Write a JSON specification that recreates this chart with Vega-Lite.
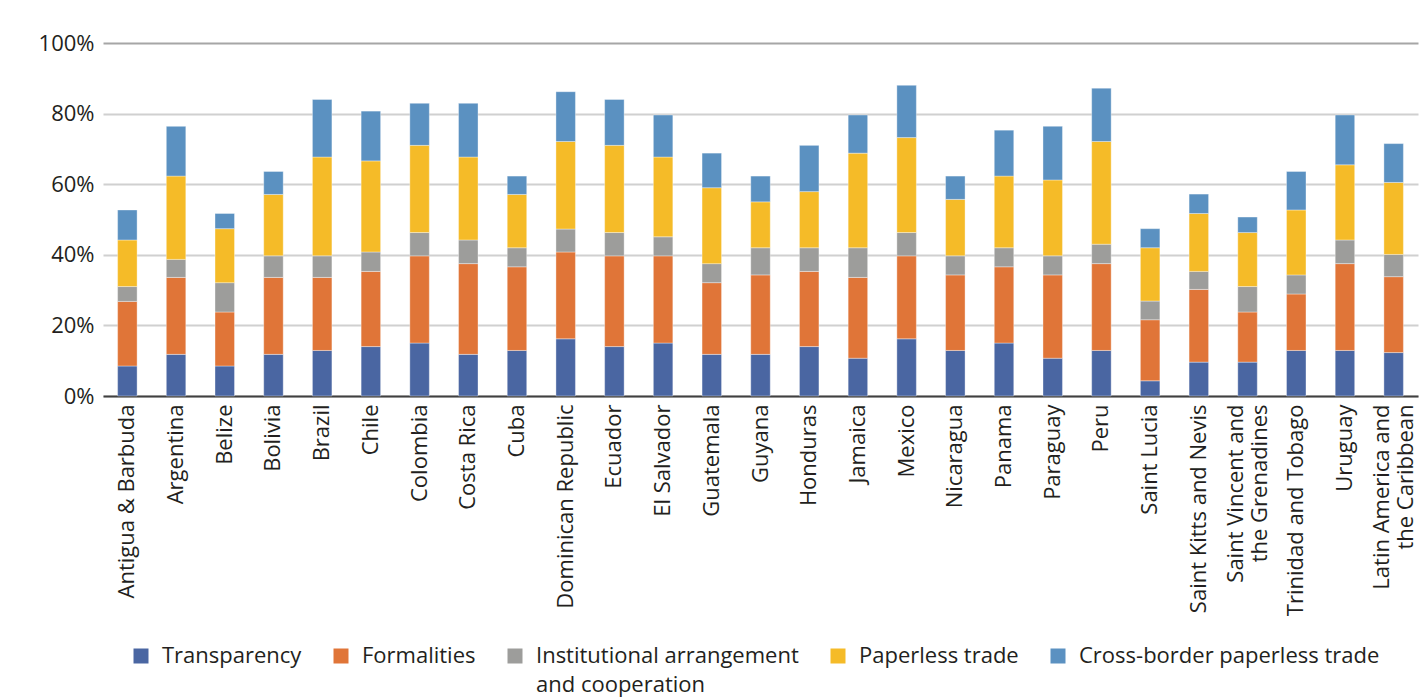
{
  "$schema": "https://vega.github.io/schema/vega-lite/v6.json",
  "width": 1315,
  "height": 353,
  "autosize": {"type": "none"},
  "padding": {"left": 103, "top": 43, "right": 10, "bottom": 301},
  "background": "#ffffff",
  "config": {
    "view": {"stroke": null},
    "font": "Open Sans",
    "axis": {"labelFont": "Open Sans", "labelColor": "#231f20"},
    "legend": {"labelFont": "Open Sans", "labelColor": "#231f20"},
    "style": {"guide-label": {"lineHeight": 29}}
  },
  "data": {
    "values": [
      {"country": "Antigua & Barbuda", "component": "Transparency", "o": 1, "value": 8.5},
      {"country": "Antigua & Barbuda", "component": "Formalities", "o": 2, "value": 18.3},
      {"country": "Antigua & Barbuda", "component": "Institutional arrangement and cooperation", "o": 3, "value": 4.2},
      {"country": "Antigua & Barbuda", "component": "Paperless trade", "o": 4, "value": 13.2},
      {"country": "Antigua & Barbuda", "component": "Cross-border paperless trade", "o": 5, "value": 8.5},
      {"country": "Argentina", "component": "Transparency", "o": 1, "value": 11.8},
      {"country": "Argentina", "component": "Formalities", "o": 2, "value": 21.8},
      {"country": "Argentina", "component": "Institutional arrangement and cooperation", "o": 3, "value": 5.1},
      {"country": "Argentina", "component": "Paperless trade", "o": 4, "value": 23.6},
      {"country": "Argentina", "component": "Cross-border paperless trade", "o": 5, "value": 14.1},
      {"country": "Belize", "component": "Transparency", "o": 1, "value": 8.5},
      {"country": "Belize", "component": "Formalities", "o": 2, "value": 15.3},
      {"country": "Belize", "component": "Institutional arrangement and cooperation", "o": 3, "value": 8.3},
      {"country": "Belize", "component": "Paperless trade", "o": 4, "value": 15.3},
      {"country": "Belize", "component": "Cross-border paperless trade", "o": 5, "value": 4.3},
      {"country": "Bolivia", "component": "Transparency", "o": 1, "value": 11.8},
      {"country": "Bolivia", "component": "Formalities", "o": 2, "value": 21.8},
      {"country": "Bolivia", "component": "Institutional arrangement and cooperation", "o": 3, "value": 6.1},
      {"country": "Bolivia", "component": "Paperless trade", "o": 4, "value": 17.4},
      {"country": "Bolivia", "component": "Cross-border paperless trade", "o": 5, "value": 6.5},
      {"country": "Brazil", "component": "Transparency", "o": 1, "value": 12.9},
      {"country": "Brazil", "component": "Formalities", "o": 2, "value": 20.7},
      {"country": "Brazil", "component": "Institutional arrangement and cooperation", "o": 3, "value": 6.1},
      {"country": "Brazil", "component": "Paperless trade", "o": 4, "value": 28.0},
      {"country": "Brazil", "component": "Cross-border paperless trade", "o": 5, "value": 16.3},
      {"country": "Chile", "component": "Transparency", "o": 1, "value": 14.0},
      {"country": "Chile", "component": "Formalities", "o": 2, "value": 21.3},
      {"country": "Chile", "component": "Institutional arrangement and cooperation", "o": 3, "value": 5.5},
      {"country": "Chile", "component": "Paperless trade", "o": 4, "value": 25.8},
      {"country": "Chile", "component": "Cross-border paperless trade", "o": 5, "value": 14.1},
      {"country": "Colombia", "component": "Transparency", "o": 1, "value": 15.0},
      {"country": "Colombia", "component": "Formalities", "o": 2, "value": 24.7},
      {"country": "Colombia", "component": "Institutional arrangement and cooperation", "o": 3, "value": 6.6},
      {"country": "Colombia", "component": "Paperless trade", "o": 4, "value": 24.7},
      {"country": "Colombia", "component": "Cross-border paperless trade", "o": 5, "value": 11.9},
      {"country": "Costa Rica", "component": "Transparency", "o": 1, "value": 11.8},
      {"country": "Costa Rica", "component": "Formalities", "o": 2, "value": 25.7},
      {"country": "Costa Rica", "component": "Institutional arrangement and cooperation", "o": 3, "value": 6.7},
      {"country": "Costa Rica", "component": "Paperless trade", "o": 4, "value": 23.5},
      {"country": "Costa Rica", "component": "Cross-border paperless trade", "o": 5, "value": 15.2},
      {"country": "Cuba", "component": "Transparency", "o": 1, "value": 12.9},
      {"country": "Cuba", "component": "Formalities", "o": 2, "value": 23.7},
      {"country": "Cuba", "component": "Institutional arrangement and cooperation", "o": 3, "value": 5.4},
      {"country": "Cuba", "component": "Paperless trade", "o": 4, "value": 15.1},
      {"country": "Cuba", "component": "Cross-border paperless trade", "o": 5, "value": 5.2},
      {"country": "Dominican Republic", "component": "Transparency", "o": 1, "value": 16.2},
      {"country": "Dominican Republic", "component": "Formalities", "o": 2, "value": 24.6},
      {"country": "Dominican Republic", "component": "Institutional arrangement and cooperation", "o": 3, "value": 6.5},
      {"country": "Dominican Republic", "component": "Paperless trade", "o": 4, "value": 24.8},
      {"country": "Dominican Republic", "component": "Cross-border paperless trade", "o": 5, "value": 14.1},
      {"country": "Ecuador", "component": "Transparency", "o": 1, "value": 14.0},
      {"country": "Ecuador", "component": "Formalities", "o": 2, "value": 25.7},
      {"country": "Ecuador", "component": "Institutional arrangement and cooperation", "o": 3, "value": 6.6},
      {"country": "Ecuador", "component": "Paperless trade", "o": 4, "value": 24.7},
      {"country": "Ecuador", "component": "Cross-border paperless trade", "o": 5, "value": 13.0},
      {"country": "El Salvador", "component": "Transparency", "o": 1, "value": 15.0},
      {"country": "El Salvador", "component": "Formalities", "o": 2, "value": 24.7},
      {"country": "El Salvador", "component": "Institutional arrangement and cooperation", "o": 3, "value": 5.4},
      {"country": "El Salvador", "component": "Paperless trade", "o": 4, "value": 22.6},
      {"country": "El Salvador", "component": "Cross-border paperless trade", "o": 5, "value": 11.9},
      {"country": "Guatemala", "component": "Transparency", "o": 1, "value": 11.8},
      {"country": "Guatemala", "component": "Formalities", "o": 2, "value": 20.3},
      {"country": "Guatemala", "component": "Institutional arrangement and cooperation", "o": 3, "value": 5.4},
      {"country": "Guatemala", "component": "Paperless trade", "o": 4, "value": 21.5},
      {"country": "Guatemala", "component": "Cross-border paperless trade", "o": 5, "value": 9.8},
      {"country": "Guyana", "component": "Transparency", "o": 1, "value": 11.8},
      {"country": "Guyana", "component": "Formalities", "o": 2, "value": 22.5},
      {"country": "Guyana", "component": "Institutional arrangement and cooperation", "o": 3, "value": 7.7},
      {"country": "Guyana", "component": "Paperless trade", "o": 4, "value": 13.0},
      {"country": "Guyana", "component": "Cross-border paperless trade", "o": 5, "value": 7.3},
      {"country": "Honduras", "component": "Transparency", "o": 1, "value": 14.0},
      {"country": "Honduras", "component": "Formalities", "o": 2, "value": 21.3},
      {"country": "Honduras", "component": "Institutional arrangement and cooperation", "o": 3, "value": 6.7},
      {"country": "Honduras", "component": "Paperless trade", "o": 4, "value": 15.9},
      {"country": "Honduras", "component": "Cross-border paperless trade", "o": 5, "value": 13.1},
      {"country": "Jamaica", "component": "Transparency", "o": 1, "value": 10.7},
      {"country": "Jamaica", "component": "Formalities", "o": 2, "value": 22.9},
      {"country": "Jamaica", "component": "Institutional arrangement and cooperation", "o": 3, "value": 8.4},
      {"country": "Jamaica", "component": "Paperless trade", "o": 4, "value": 26.8},
      {"country": "Jamaica", "component": "Cross-border paperless trade", "o": 5, "value": 10.8},
      {"country": "Mexico", "component": "Transparency", "o": 1, "value": 16.2},
      {"country": "Mexico", "component": "Formalities", "o": 2, "value": 23.5},
      {"country": "Mexico", "component": "Institutional arrangement and cooperation", "o": 3, "value": 6.6},
      {"country": "Mexico", "component": "Paperless trade", "o": 4, "value": 26.9},
      {"country": "Mexico", "component": "Cross-border paperless trade", "o": 5, "value": 14.8},
      {"country": "Nicaragua", "component": "Transparency", "o": 1, "value": 12.9},
      {"country": "Nicaragua", "component": "Formalities", "o": 2, "value": 21.4},
      {"country": "Nicaragua", "component": "Institutional arrangement and cooperation", "o": 3, "value": 5.4},
      {"country": "Nicaragua", "component": "Paperless trade", "o": 4, "value": 16.0},
      {"country": "Nicaragua", "component": "Cross-border paperless trade", "o": 5, "value": 6.6},
      {"country": "Panama", "component": "Transparency", "o": 1, "value": 15.0},
      {"country": "Panama", "component": "Formalities", "o": 2, "value": 21.6},
      {"country": "Panama", "component": "Institutional arrangement and cooperation", "o": 3, "value": 5.4},
      {"country": "Panama", "component": "Paperless trade", "o": 4, "value": 20.3},
      {"country": "Panama", "component": "Cross-border paperless trade", "o": 5, "value": 13.0},
      {"country": "Paraguay", "component": "Transparency", "o": 1, "value": 10.7},
      {"country": "Paraguay", "component": "Formalities", "o": 2, "value": 23.6},
      {"country": "Paraguay", "component": "Institutional arrangement and cooperation", "o": 3, "value": 5.4},
      {"country": "Paraguay", "component": "Paperless trade", "o": 4, "value": 21.5},
      {"country": "Paraguay", "component": "Cross-border paperless trade", "o": 5, "value": 15.2},
      {"country": "Peru", "component": "Transparency", "o": 1, "value": 12.9},
      {"country": "Peru", "component": "Formalities", "o": 2, "value": 24.6},
      {"country": "Peru", "component": "Institutional arrangement and cooperation", "o": 3, "value": 5.5},
      {"country": "Peru", "component": "Paperless trade", "o": 4, "value": 29.1},
      {"country": "Peru", "component": "Cross-border paperless trade", "o": 5, "value": 15.1},
      {"country": "Saint Lucia", "component": "Transparency", "o": 1, "value": 4.3},
      {"country": "Saint Lucia", "component": "Formalities", "o": 2, "value": 17.3},
      {"country": "Saint Lucia", "component": "Institutional arrangement and cooperation", "o": 3, "value": 5.3},
      {"country": "Saint Lucia", "component": "Paperless trade", "o": 4, "value": 15.1},
      {"country": "Saint Lucia", "component": "Cross-border paperless trade", "o": 5, "value": 5.4},
      {"country": "Saint Kitts and Nevis", "component": "Transparency", "o": 1, "value": 9.6},
      {"country": "Saint Kitts and Nevis", "component": "Formalities", "o": 2, "value": 20.6},
      {"country": "Saint Kitts and Nevis", "component": "Institutional arrangement and cooperation", "o": 3, "value": 5.1},
      {"country": "Saint Kitts and Nevis", "component": "Paperless trade", "o": 4, "value": 16.4},
      {"country": "Saint Kitts and Nevis", "component": "Cross-border paperless trade", "o": 5, "value": 5.5},
      {"country": "Saint Vincent and the Grenadines", "component": "Transparency", "o": 1, "value": 9.6},
      {"country": "Saint Vincent and the Grenadines", "component": "Formalities", "o": 2, "value": 14.2},
      {"country": "Saint Vincent and the Grenadines", "component": "Institutional arrangement and cooperation", "o": 3, "value": 7.2},
      {"country": "Saint Vincent and the Grenadines", "component": "Paperless trade", "o": 4, "value": 15.3},
      {"country": "Saint Vincent and the Grenadines", "component": "Cross-border paperless trade", "o": 5, "value": 4.4},
      {"country": "Trinidad and Tobago", "component": "Transparency", "o": 1, "value": 12.9},
      {"country": "Trinidad and Tobago", "component": "Formalities", "o": 2, "value": 16.0},
      {"country": "Trinidad and Tobago", "component": "Institutional arrangement and cooperation", "o": 3, "value": 5.4},
      {"country": "Trinidad and Tobago", "component": "Paperless trade", "o": 4, "value": 18.4},
      {"country": "Trinidad and Tobago", "component": "Cross-border paperless trade", "o": 5, "value": 10.9},
      {"country": "Uruguay", "component": "Transparency", "o": 1, "value": 12.9},
      {"country": "Uruguay", "component": "Formalities", "o": 2, "value": 24.6},
      {"country": "Uruguay", "component": "Institutional arrangement and cooperation", "o": 3, "value": 6.7},
      {"country": "Uruguay", "component": "Paperless trade", "o": 4, "value": 21.3},
      {"country": "Uruguay", "component": "Cross-border paperless trade", "o": 5, "value": 14.1},
      {"country": "Latin America and the Caribbean", "component": "Transparency", "o": 1, "value": 12.3},
      {"country": "Latin America and the Caribbean", "component": "Formalities", "o": 2, "value": 21.5},
      {"country": "Latin America and the Caribbean", "component": "Institutional arrangement and cooperation", "o": 3, "value": 6.3},
      {"country": "Latin America and the Caribbean", "component": "Paperless trade", "o": 4, "value": 20.4},
      {"country": "Latin America and the Caribbean", "component": "Cross-border paperless trade", "o": 5, "value": 11.0}
    ]
  },
  "mark": {"type": "bar", "stroke": "#ffffff", "strokeOpacity": 0.35, "strokeWidth": 1},
  "encoding": {
    "x": {
      "field": "country",
      "type": "nominal",
      "sort": null,
      "scale": {"paddingInner": 0.6, "paddingOuter": 0.3},
      "axis": {
        "title": null,
        "labelAngle": -90,
        "labelAlign": "right",
        "labelBaseline": "middle",
        "labelFontSize": 22,
        "labelPadding": 8,
        "labelLineHeight": 24,
        "labelLimit": 400,
        "labelOffset": {"condition": {"test": "datum.value == 'Saint Vincent and the Grenadines' || datum.value == 'Latin America and the Caribbean'", "value": -12}, "value": 0},
        "ticks": false,
        "domainColor": "#404040",
        "domainWidth": 2,
        "labelExpr": "datum.value == 'Saint Vincent and the Grenadines' ? ['Saint Vincent and', 'the Grenadines'] : datum.value == 'Latin America and the Caribbean' ? ['Latin America and', 'the Caribbean'] : datum.value"
      }
    },
    "y": {
      "field": "value",
      "type": "quantitative",
      "stack": "zero",
      "scale": {"domain": [0, 100], "nice": false},
      "axis": {
        "title": null,
        "values": [0, 20, 40, 60, 80, 100],
        "labelExpr": "datum.value + '%'",
        "labelFontSize": 22,
        "labelPadding": 9,
        "ticks": false,
        "domain": false,
        "gridColor": {"condition": {"test": "datum.value == 100", "value": "#a6a6a6"}, "value": "#d0d0d0"},
        "gridWidth": 2
      }
    },
    "color": {
      "field": "component",
      "type": "nominal",
      "scale": {
        "domain": ["Transparency", "Formalities", "Institutional arrangement and cooperation", "Paperless trade", "Cross-border paperless trade"],
        "range": ["#4a66a2", "#e07538", "#9d9d9b", "#f5bb28", "#5b91c1"]
      },
      "legend": {
        "title": null,
        "orient": "none",
        "direction": "horizontal",
        "legendX": 27,
        "legendY": 602,
        "padding": 0,
        "symbolType": "square",
        "symbolSize": 225,
        "symbolStrokeWidth": 0,
        "labelFontSize": 22,
        "labelOffset": 10,
        "labelLimit": 500,
        "columnPadding": 28,
        "labelExpr": "datum.value == 'Institutional arrangement and cooperation' ? ['Institutional arrangement', 'and cooperation'] : [datum.value, '']"
      }
    },
    "order": {"field": "o", "type": "quantitative"}
  }
}
